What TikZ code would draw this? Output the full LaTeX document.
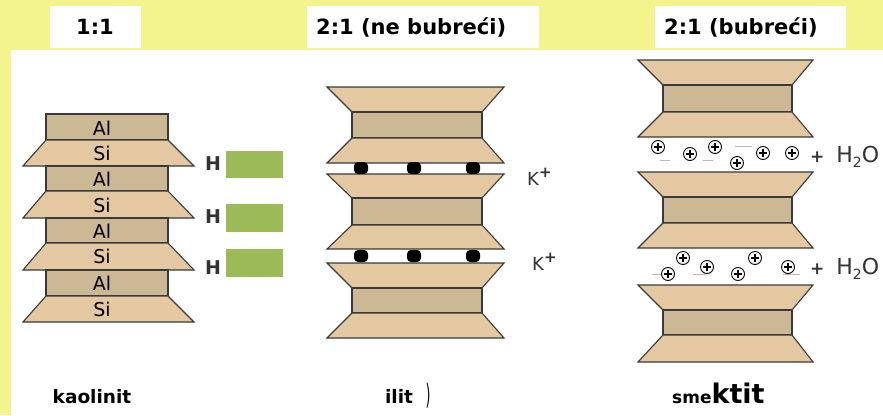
\documentclass[tikz,border=0pt]{standalone}
\usepackage{fontspec}
\setmainfont{DejaVu Sans}
\definecolor{bgyellow}{HTML}{F3F48D}
\definecolor{sitan}{HTML}{E3C8A2}
\definecolor{altan}{HTML}{CDB896}
\definecolor{hgreen}{HTML}{9BBB59}
\definecolor{edge}{HTML}{3A3A3A}
\definecolor{labelgray}{HTML}{333333}
% one 2:1 sheet stack: wide x, narrow x, narrow x, wide x, then four y levels
\newcommand{\sheetpair}[8]{%
  \filldraw[sheet, fill=sitan] (#1,#5) -- (#4,#5) -- (#3,#6) -- (#2,#6) -- cycle;
  \filldraw[sheet, fill=altan] (#2,#6) rectangle (#3,#7);
  \filldraw[sheet, fill=sitan] (#2,#7) -- (#3,#7) -- (#4,#8) -- (#1,#8) -- cycle;
}
% kaolinite: Al octahedral block over Si tetrahedral trapezoid
\newcommand{\kaolpair}[3]{%
  \filldraw[sheet, fill=altan] (46,#1) rectangle (168,#2);
  \filldraw[sheet, fill=sitan] (46,#2) -- (168,#2) -- (194,#3) -- (23,#3) -- cycle;
}
\newcommand{\cation}[2]{%
  \filldraw[ionring] (#1,#2) circle (6.5pt);
  \draw[ionplus] (#1-3.6,#2) -- (#1+3.6,#2) (#1,#2-3.6) -- (#1,#2+3.6);
}
\newcommand{\kdot}[2]{%
  \fill[black, rounded corners=4pt] (#1-7,#2-6) rectangle (#1+7,#2+6);
}
\newcommand{\kplus}{K\raisebox{8pt}{\fontsize{15}{15}\selectfont\bfseries +}}
\newcommand{\water}{{\fontsize{17}{17}\selectfont\bfseries +}\hspace{12pt}H\raisebox{-5pt}{\fontsize{14}{14}\selectfont 2}O}
\begin{document}
\begin{tikzpicture}[x=1pt, y=-1pt,
  sheet/.style={draw=edge, line width=1.1pt, line join=miter},
  ionring/.style={draw=black, fill=white, line width=0.9pt},
  ionplus/.style={draw=black, line width=1.3pt},
  dashmark/.style={draw=gray!55, line width=1pt},
  head/.style={font=\fontsize{21}{23}\selectfont\bfseries, anchor=base, inner sep=0pt},
  layer/.style={font=\fontsize{19}{21}\selectfont, inner sep=0pt},
  ion/.style={font=\fontsize{18}{20}\selectfont, text=labelgray, inner sep=0pt},
  mineral/.style={font=\fontsize{18.5}{20}\selectfont\bfseries, anchor=base, inner sep=0pt}]
\useasboundingbox (0,0) rectangle (883,415);

% background and panels
\fill[bgyellow] (0,0) rectangle (883,415);
\fill[white] (11,50) rectangle (883,415);
\fill[white] (50,6) rectangle (141,48);
\fill[white] (307,6) rectangle (539,48);
\fill[white] (655,6) rectangle (846,48);

\node[head] (h11) at (95,34) {1:1};
\node[head, anchor=base west] (h21n) at (316,34) {2:1 (ne bubreći)};
\node[head, anchor=base west] (h21b) at (664,34) {2:1 (bubreći)};

% ---- kaolinite (1:1) ----
\kaolpair{114}{140}{166}
\kaolpair{166}{191}{218}
\kaolpair{218}{243}{270}
\kaolpair{270}{296}{322}
\node[layer] (al1) at (102,128) {Al};
\node[layer] (si1) at (102,153) {Si};
\node[layer] (al2) at (102,179) {Al};
\node[layer] (si2) at (102,205) {Si};
\node[layer] (al3) at (102,231) {Al};
\node[layer] (si3) at (102,256) {Si};
\node[layer] (al4) at (102,283) {Al};
\node[layer] (si4) at (102,309) {Si};

\node[ion, font=\fontsize{19}{21}\selectfont\bfseries] (hb1) at (213,164) {H};
\node[ion, font=\fontsize{19}{21}\selectfont\bfseries] (hb2) at (213,217) {H};
\node[ion, font=\fontsize{19}{21}\selectfont\bfseries] (hb3) at (213,268) {H};
\fill[hgreen] (226,151) rectangle (283,178);
\fill[hgreen] (226,204) rectangle (283,232);
\fill[hgreen] (226,249) rectangle (283,277);

\node[mineral] (kaol) at (92,403) {kaolinit};

% ---- illite (2:1, non-swelling) ----
\sheetpair{327}{352}{482}{504}{87}{112}{138}{163}
\sheetpair{327}{352}{482}{504}{174}{198}{225}{249}
\sheetpair{327}{352}{482}{504}{263}{288}{313}{338}
\kdot{361}{168} \kdot{414}{168} \kdot{473}{168}
\kdot{361}{256} \kdot{414}{256} \kdot{473}{256}
\node[ion, anchor=base west] (k1) at (527,185) {\kplus};
\node[ion, anchor=base west] (k2) at (532,270) {\kplus};

\node[mineral] (ilit) at (399,403) {ilit};
\node[font=\fontsize{28}{30}\selectfont, anchor=base, inner sep=0pt] (ilitp) at (428,404) {\scalebox{0.45}[1]{)}};

% ---- smectite (2:1, swelling) ----
\sheetpair{638}{663}{792}{813}{60}{85}{112}{137}
\sheetpair{638}{663}{792}{813}{172}{197}{223}{248}
\sheetpair{638}{663}{792}{813}{285}{310}{335}{362}

\draw[dashmark] (660,160) -- (670,160);
\draw[dashmark] (703,160) -- (713,160);
\draw[dashmark] (735,146) -- (752,146);
\cation{658}{147} \cation{690}{154} \cation{715}{147}
\cation{737}{163} \cation{763}{153} \cation{792}{153}

\draw[dashmark] (652,274) -- (662,274);
\draw[dashmark] (693,274) -- (707,274);
\draw[dashmark] (783,274) -- (800,274);
\cation{668}{274} \cation{683}{258} \cation{707}{267}
\cation{738}{274} \cation{755}{258} \cation{788}{267}

\node[ion, font=\fontsize{22}{24}\selectfont, anchor=base west] (w1) at (810,162) {\water};
\node[ion, font=\fontsize{22}{24}\selectfont, anchor=base west] (w2) at (810,274) {\water};

\node[anchor=base west, inner sep=0pt, font=\bfseries] (smek) at (672,403)
  {{\fontsize{17}{19}\selectfont sme}{\fontsize{27}{29}\selectfont ktit}};
\end{tikzpicture}
\end{document}
